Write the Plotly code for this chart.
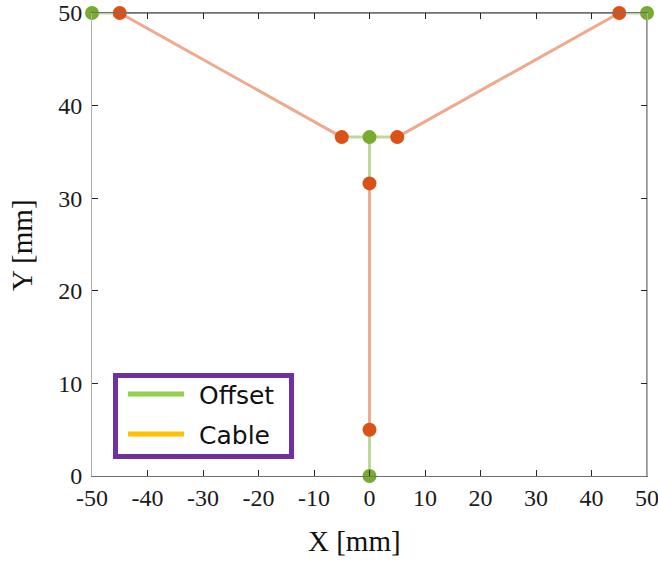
import plotly.graph_objects as go

# Offset points (green markers)
offset_x = [-50, 50, 0, 0]
offset_y = [50, 50, 36.6, 0]
# Cable points (orange markers)
cable_x = [-45, 45, -5, 5, 0, 0]
cable_y = [50, 50, 36.6, 36.6, 31.6, 5]

# Offset segments (light green lines)
offset_seg_x = [-50, -45, None, 45, 50, None, -5, 5, None, 0, 0, None, 0, 0]
offset_seg_y = [50, 50, None, 50, 50, None, 36.6, 36.6, None, 36.6, 31.6, None, 5, 0]
# Cable segments (salmon lines)
cable_seg_x = [-45, -5, None, 45, 5, None, 0, 0]
cable_seg_y = [50, 36.6, None, 50, 36.6, None, 31.6, 5]

x_ticks = [-50, -40, -30, -20, -10, 0, 10, 20, 30, 40, 50]
x_tick_labels = ["-50", "-40", "-30", "-20", "-10", "0", "10", "20", "30", "40", "50"]
y_ticks = [0, 10, 20, 30, 40, 50]
y_tick_labels = ["0", "10", "20", "30", "40", "50"]

legend_names = ["Offset", "Cable"]
legend_colors = ["#92D050", "#FFC000"]

SERIF = "Liberation Serif, Times New Roman, serif"

fig = go.Figure()
fig.add_trace(go.Scatter(x=offset_seg_x, y=offset_seg_y, mode="lines",
                         line=dict(color="#BCD99A", width=3), showlegend=False))
fig.add_trace(go.Scatter(x=cable_seg_x, y=cable_seg_y, mode="lines",
                         line=dict(color="#EEAA8C", width=3), showlegend=False))
fig.add_trace(go.Scatter(x=offset_x, y=offset_y, mode="markers",
                         marker=dict(color="#77AC30", size=14), showlegend=False, cliponaxis=False))
fig.add_trace(go.Scatter(x=cable_x, y=cable_y, mode="markers",
                         marker=dict(color="#D95319", size=14), showlegend=False, cliponaxis=False))

axis_font = dict(family=SERIF, size=24, color="#1a1a1a")

# manual legend box (paper coords, plot area 92..647 x 13..476 px)
def px_x(p):
    return (p - 92) / 555.0

def px_y(p):
    return (476 - p) / 463.0

shapes = [
    dict(type="line", xref="paper", yref="paper", x0=0, x1=1, y0=1, y1=1,
         line=dict(color="#262626", width=1), layer="below"),
    dict(type="line", xref="paper", yref="paper", x0=1, x1=1, y0=0, y1=1,
         line=dict(color="#262626", width=1), layer="below"),
    dict(type="rect", xref="paper", yref="paper", x0=px_x(115.5), x1=px_x(291.5),
         y0=px_y(456.5), y1=px_y(375.5), line=dict(color="#7030A0", width=5),
         fillcolor="white", layer="above"),
]
annotations = []
legend_rows = [394, 434]
for name, color, row in zip(legend_names, legend_colors, legend_rows):
    shapes.append(dict(type="line", xref="paper", yref="paper", x0=px_x(128), x1=px_x(184),
                       y0=px_y(row), y1=px_y(row), line=dict(color=color, width=5), layer="above"))
    annotations.append(dict(text=name, xref="paper", yref="paper", x=px_x(197), y=px_y(row + 1),
                            xanchor="left", yanchor="middle", showarrow=False,
                            font=dict(family="DejaVu Sans, Verdana, sans-serif", size=25, color="#111")))

annotations.append(dict(text="X [mm]", xref="paper", yref="paper", x=px_x(354), y=px_y(541),
                        xanchor="center", yanchor="middle", showarrow=False,
                        font=dict(family=SERIF, size=29, color="#111")))
annotations.append(dict(text="Y [mm]", xref="paper", yref="paper", x=px_x(22), y=px_y(245),
                        xanchor="center", yanchor="middle", showarrow=False, textangle=-90,
                        font=dict(family=SERIF, size=29, color="#111")))

fig.update_layout(
    width=658, height=561,
    margin=dict(l=92, r=11, t=13, b=85),
    plot_bgcolor="white", paper_bgcolor="white",
    showlegend=False,
    xaxis=dict(range=[-50, 50], tickvals=x_ticks, ticktext=x_tick_labels, ticks="inside", ticklen=6,
               tickcolor="#262626", showline=True, linecolor="#707070", linewidth=1, mirror="ticks",
               showgrid=False, zeroline=False, tickfont=axis_font, automargin=False,
               ticklabeloverflow="allow"),
    yaxis=dict(range=[0, 50], tickvals=y_ticks, ticktext=y_tick_labels, ticks="inside", ticklen=6,
               tickcolor="#262626", showline=True, linecolor="#B0B0B0", linewidth=1, mirror="ticks",
               showgrid=False, zeroline=False, tickfont=axis_font, automargin=False,
               ticklabeloverflow="allow", ticklabelstandoff=4),
    shapes=shapes,
    annotations=annotations,
)
fig.write_html("out.html", config={"displayModeBar": False},
               post_script="document.body.style.margin='0';document.body.style.overflow='hidden';")
